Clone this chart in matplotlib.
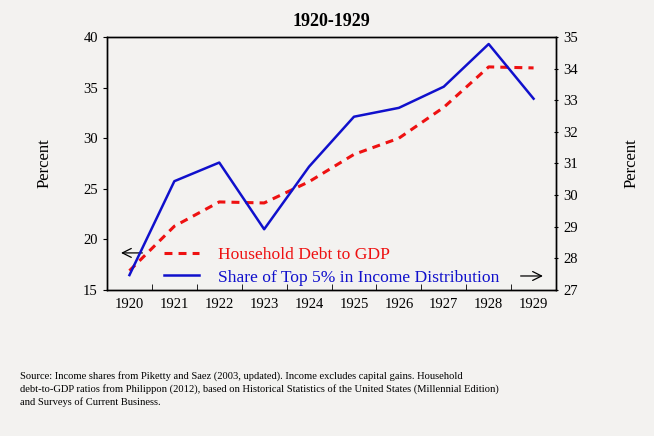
import matplotlib
matplotlib.use("Agg")
import matplotlib.pyplot as plt

years = [1920, 1921, 1922, 1923, 1924, 1925, 1926, 1927, 1928, 1929]
debt_to_gdp = [16.9, 21.3, 23.7, 23.6, 25.7, 28.4, 30.0, 33.05, 37.05, 36.95]
top5_share = [27.47, 30.44, 31.03, 28.92, 30.9, 32.48, 32.76, 33.43, 34.78, 33.05]

title = "1920-1929"
label_debt = "Household Debt to GDP"
label_top5 = "Share of Top 5% in Income Distribution"
source = ("Source: Income shares from Piketty and Saez (2003, updated). Income excludes capital gains. Household\n"
          "debt-to-GDP ratios from Philippon (2012), based on Historical Statistics of the United States (Millennial Edition)\n"
          "and Surveys of Current Business.")

bg = "#f3f2f0"
plt.rcParams['font.family'] = ['Liberation Serif', 'DejaVu Serif']

fig = plt.figure(figsize=(6.54, 4.36), dpi=100, facecolor=bg)
ax = fig.add_axes([0.1636, 0.335, 0.6866, 0.580])
ax.set_facecolor(bg)
ax2 = ax.twinx()

l1, = ax.plot(years, debt_to_gdp, color="#ee1111", lw=2.2, ls=(0, (2.6, 2.0)))
l2, = ax2.plot(years, top5_share, color="#1010cc", lw=1.8)

ax.set_xlim(1919.5, 1929.5)
ax.set_ylim(15, 40)
ax.set_yticks(range(15, 41, 5))
ax2.set_ylim(27, 35)
ax2.set_yticks(range(27, 36))

ax.set_xticks(years)
ax.set_xticks([y + 0.5 for y in years[:-1]], minor=True)
ax.tick_params(axis='x', which='major', length=0, labelsize=10.5, pad=6)
ax.tick_params(axis='x', which='minor', length=4, direction='in')
ax.tick_params(axis='y', labelsize=10.5, length=3, direction='out')
ax2.tick_params(axis='y', labelsize=10.5, length=3, direction='inout')

for a in (ax, ax2):
    for s in a.spines.values():
        s.set_linewidth(1.0)

ax.set_ylabel("Percent", fontsize=12, labelpad=22)
ax2.set_ylabel("Percent", fontsize=12, labelpad=33, rotation=90)
ax.set_title(title, fontsize=13, fontweight='bold', pad=8)

leg = ax.legend([l1, l2], [label_debt, label_top5], loc='lower left',
                bbox_to_anchor=(0.092, -0.045), frameon=False, fontsize=12.6,
                handlelength=2.0, handletextpad=1.1, labelspacing=0.36)
leg.get_texts()[0].set_color("#ee1111")
leg.get_texts()[1].set_color("#1010cc")

ax.annotate("", xy=(1919.75, 18.66), xytext=(1920.35, 18.66),
            arrowprops=dict(arrowstyle="->", color="black", lw=0.9, mutation_scale=16))
ax.annotate("", xy=(1929.27, 16.38), xytext=(1928.65, 16.38),
            arrowprops=dict(arrowstyle="->", color="black", lw=0.9, mutation_scale=16))

fig.text(0.031, 0.148, source, fontsize=7.6, va='top', ha='left', linespacing=1.38)

fig.savefig("out.png", dpi=100, facecolor=bg)
